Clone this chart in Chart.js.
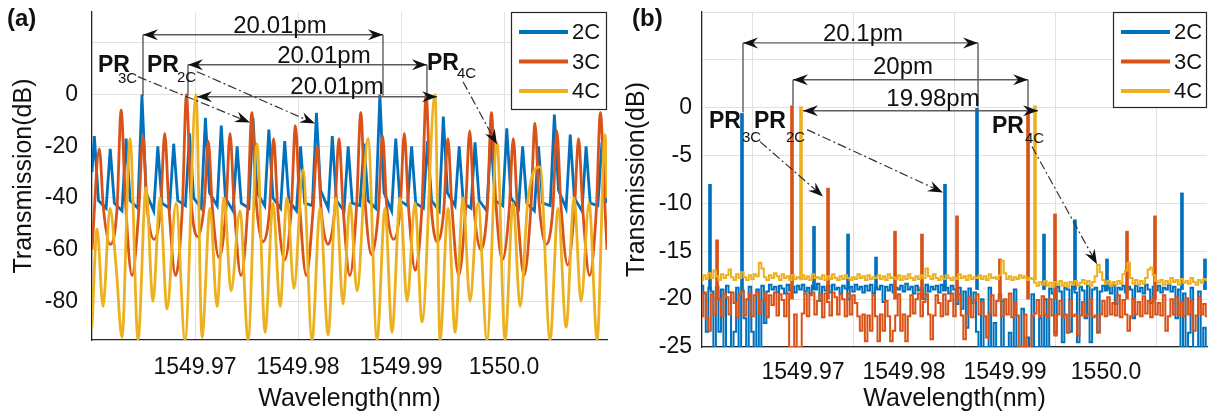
<!DOCTYPE html>
<html>
<head>
<meta charset="utf-8">
<script src="https://cdn.jsdelivr.net/npm/chart.js@4.4.1/dist/chart.umd.min.js"></script>
<style>
  body { margin: 0; background: #fff; width: 1211px; height: 416px; overflow: hidden; position: relative; }
  .panel { position: absolute; top: 0; height: 416px; }
  #wrap-a { left: 0; width: 615px; }
  #wrap-b { left: 615px; width: 596px; }
</style>
</head>
<body>
<div class="panel" id="wrap-a"><canvas id="chart-a"></canvas></div>
<div class="panel" id="wrap-b"><canvas id="chart-b"></canvas></div>
<script>
// ---- shared ticks ----
const tickWl = [1549.97, 1549.98, 1549.99, 1550.00];
const tickWlLabels = ["1549.97", "1549.98", "1549.99", "1550.0"];
const tickDbA = [-80, -60, -40, -20, 0, 20];
const tickDbB = [-25, -20, -15, -10, -5, 0, 5, 10];

// ---- panel (a): simulated transmission ----
const wlA2C = [1549.96000,
  1549.96023, 1549.96063, 1549.96137, 1549.96177, 1549.96217, 1549.96291, 1549.96331, 1549.96371, 1549.96445,
  1549.96485, 1549.96525, 1549.96599, 1549.96639, 1549.96679, 1549.96753, 1549.96793, 1549.96833, 1549.96907,
  1549.96947, 1549.96987, 1549.97061, 1549.97101, 1549.97141, 1549.97215, 1549.97255, 1549.97295, 1549.97369,
  1549.97409, 1549.97449, 1549.97523, 1549.97563, 1549.97603, 1549.97677, 1549.97717, 1549.97757, 1549.97831,
  1549.97871, 1549.97911, 1549.97985, 1549.98025, 1549.98065, 1549.98139, 1549.98179, 1549.98219, 1549.98293,
  1549.98333, 1549.98373, 1549.98447, 1549.98487, 1549.98527, 1549.98601, 1549.98641, 1549.98681, 1549.98755,
  1549.98795, 1549.98835, 1549.98909, 1549.98949, 1549.98989, 1549.99063, 1549.99103, 1549.99143, 1549.99217,
  1549.99257, 1549.99297, 1549.99371, 1549.99411, 1549.99451, 1549.99525, 1549.99565, 1549.99605, 1549.99679,
  1549.99719, 1549.99759, 1549.99833, 1549.99873, 1549.99913, 1549.99987, 1550.00027, 1550.00067, 1550.00141,
  1550.00181, 1550.00221, 1550.00295, 1550.00335, 1550.00375, 1550.00449, 1550.00489, 1550.00529, 1550.00603,
  1550.00643, 1550.00683, 1550.00757, 1550.00797, 1550.00837, 1550.00911, 1550.00951, 1550.00991, 1550.01000];
const dbA2C = [-30,
  -16, -41, -44, -21, -42, -45, -17, -41, -44,
  0, -38, -45, -20, -42, -44, -19, -41, -43,
  -15, -40, -44, -9, -38, -43, -12, -40, -45,
  -20, -42, -44, -9, -38, -43, -13.5, -40, -44,
  -18, -41, -45, -20, -42, -43, -7, -37, -44,
  -16, -41, -45, -20, -42, -43, -19, -41, -44,
  0, -38, -45, -17, -41, -43, -20, -42, -44,
  -18, -41, -45, -8.5, -38, -43, -20, -42, -44,
  -18.5, -41, -45, -16, -41, -43, -13, -40, -44,
  -20, -42, -45, -20, -42, -43, -7.7, -37, -44,
  -15.5, -40, -45, -20, -42, -43, -18.5, -41, -42];

const wlA3C = [1549.96000,
  1549.96071, 1549.96111, 1549.96177, 1549.96243, 1549.96283, 1549.96323, 1549.96388, 1549.96454,
  1549.96494, 1549.96534, 1549.96600, 1549.96666, 1549.96706, 1549.96746, 1549.96811, 1549.96877,
  1549.96917, 1549.96957, 1549.97023, 1549.97089, 1549.97129, 1549.97169, 1549.97234, 1549.97300,
  1549.97340, 1549.97380, 1549.97446, 1549.97512, 1549.97552, 1549.97592, 1549.97657, 1549.97723,
  1549.97763, 1549.97803, 1549.97869, 1549.97935, 1549.97975, 1549.98015, 1549.98080, 1549.98146,
  1549.98186, 1549.98226, 1549.98292, 1549.98358, 1549.98398, 1549.98438, 1549.98503, 1549.98569,
  1549.98609, 1549.98649, 1549.98715, 1549.98781, 1549.98821, 1549.98861, 1549.98926, 1549.98992,
  1549.99032, 1549.99072, 1549.99138, 1549.99204, 1549.99244, 1549.99284, 1549.99349, 1549.99415,
  1549.99455, 1549.99495, 1549.99561, 1549.99627, 1549.99667, 1549.99707, 1549.99772, 1549.99838,
  1549.99878, 1549.99918, 1549.99984, 1550.00050, 1550.00090, 1550.00130, 1550.00195, 1550.00261,
  1550.00301, 1550.00341, 1550.00407, 1550.00473, 1550.00513, 1550.00553, 1550.00618, 1550.00684,
  1550.00724, 1550.00764, 1550.00830, 1550.00896, 1550.00936, 1550.00976, 1550.01000];
const dbA3C = [-60,
  -21, -44, -58, -44, -6, -40, -70, -45,
  -16, -43, -56, -44, -15, -43, -70, -44,
  0, -38, -55, -43, -18, -44, -63, -45,
  -15, -43, -70, -44, -7, -40, -57, -45,
  -17, -44, -64, -44, -12, -42, -70, -45,
  -20, -45, -58, -44, -17, -44, -70, -43,
  -7, -40, -62, -45, -16, -43, -56, -44,
  -15, -43, -68, -43, 0, -38, -57, -45,
  -17, -44, -70, -44, -14, -43, -60, -44,
  -7, -40, -64, -45, -17, -44, -70, -44,
  -11, -42, -58, -45, -14, -43, -66, -44,
  -17, -44, -70, -45, -7, -40, -60];

const wlA4C = [1549.96000, 1549.96049, 1549.96107, 1549.96175, 1549.96233, 1549.96291, 1549.96369, 1549.96447, 1549.96524, 1549.96592,
  1549.96660, 1549.96728, 1549.96816, 1549.96903, 1549.97010, 1549.97068, 1549.97146, 1549.97214, 1549.97282, 1549.97350,
  1549.97437, 1549.97515, 1549.97602, 1549.97680, 1549.97758, 1549.97826, 1549.97893, 1549.97961, 1549.98049, 1549.98136,
  1549.98214, 1549.98292, 1549.98369, 1549.98437, 1549.98505, 1549.98573, 1549.98680, 1549.98767, 1549.98845, 1549.98913,
  1549.98991, 1549.99059, 1549.99136, 1549.99204, 1549.99330, 1549.99379, 1549.99457, 1549.99525, 1549.99602, 1549.99670,
  1549.99748, 1549.99835, 1549.99932, 1550.00010, 1550.00088, 1550.00156, 1550.00234, 1550.00350, 1550.00447, 1550.00525,
  1550.00603, 1550.00680, 1550.00748, 1550.00826, 1550.00904, 1550.00981, 1550.01000];
const dbA4C = [-90, -52, -82, -44, -66, -94, -17, -95, -36, -80,
  -40, -83, -42, -95, 0, -94, -44, -82, -40, -76,
  -45, -95, -19, -92, -42, -82, -40, -75, -29, -95,
  -44, -93, -40, -81, -42, -76, -17, -95, -44, -92,
  -40, -80, -42, -88, 0, -95, -44, -92, -40, -80,
  -42, -95, -18.5, -95, -42, -82, -40, -28, -95, -44,
  -90, -40, -80, -42, -95, -15.5, -40];

// ---- panel (b): measured transmission, sampled every 0.25 pm ----
const wlB = [1549.96000, 1549.96025, 1549.96050, 1549.96075, 1549.96100, 1549.96125, 1549.96150, 1549.96175, 1549.96200, 1549.96225,
  1549.96250, 1549.96275, 1549.96300, 1549.96325, 1549.96350, 1549.96375, 1549.96400, 1549.96425, 1549.96450, 1549.96475,
  1549.96500, 1549.96525, 1549.96550, 1549.96575, 1549.96600, 1549.96625, 1549.96650, 1549.96675, 1549.96700, 1549.96725,
  1549.96750, 1549.96775, 1549.96800, 1549.96825, 1549.96850, 1549.96875, 1549.96900, 1549.96925, 1549.96950, 1549.96975,
  1549.97000, 1549.97025, 1549.97050, 1549.97075, 1549.97100, 1549.97125, 1549.97150, 1549.97175, 1549.97200, 1549.97225,
  1549.97250, 1549.97275, 1549.97300, 1549.97325, 1549.97350, 1549.97375, 1549.97400, 1549.97425, 1549.97450, 1549.97475,
  1549.97500, 1549.97525, 1549.97550, 1549.97575, 1549.97600, 1549.97625, 1549.97650, 1549.97675, 1549.97700, 1549.97725,
  1549.97750, 1549.97775, 1549.97800, 1549.97825, 1549.97850, 1549.97875, 1549.97900, 1549.97925, 1549.97950, 1549.97975,
  1549.98000, 1549.98025, 1549.98050, 1549.98075, 1549.98100, 1549.98125, 1549.98150, 1549.98175, 1549.98200, 1549.98225,
  1549.98250, 1549.98275, 1549.98300, 1549.98325, 1549.98350, 1549.98375, 1549.98400, 1549.98425, 1549.98450, 1549.98475,
  1549.98500, 1549.98525, 1549.98550, 1549.98575, 1549.98600, 1549.98625, 1549.98650, 1549.98675, 1549.98700, 1549.98725,
  1549.98750, 1549.98775, 1549.98800, 1549.98825, 1549.98850, 1549.98875, 1549.98900, 1549.98925, 1549.98950, 1549.98975,
  1549.99000, 1549.99025, 1549.99050, 1549.99075, 1549.99100, 1549.99125, 1549.99150, 1549.99175, 1549.99200, 1549.99225,
  1549.99250, 1549.99275, 1549.99300, 1549.99325, 1549.99350, 1549.99375, 1549.99400, 1549.99425, 1549.99450, 1549.99475,
  1549.99500, 1549.99525, 1549.99550, 1549.99575, 1549.99600, 1549.99625, 1549.99650, 1549.99675, 1549.99700, 1549.99725,
  1549.99750, 1549.99775, 1549.99800, 1549.99825, 1549.99850, 1549.99875, 1549.99900, 1549.99925, 1549.99950, 1549.99975,
  1550.00000, 1550.00025, 1550.00050, 1550.00075, 1550.00100, 1550.00125, 1550.00150, 1550.00175, 1550.00200, 1550.00225,
  1550.00250, 1550.00275, 1550.00300, 1550.00325, 1550.00350, 1550.00375, 1550.00400, 1550.00425, 1550.00450, 1550.00475,
  1550.00500, 1550.00525, 1550.00550, 1550.00575, 1550.00600, 1550.00625, 1550.00650, 1550.00675, 1550.00700, 1550.00725,
  1550.00750, 1550.00775, 1550.00800, 1550.00825, 1550.00850, 1550.00875, 1550.00900, 1550.00925, 1550.00950, 1550.00975,
  1550.01000];
const dbB2C = [-18.6, -19.4, -23.4, -18.8, -19.2, -25.0, -18.7, -23.4, -19.0, -25.0,
  -18.6, -19.3, -25.0, -23.4, -18.8, -25.0, -19.1, -22.0, -25.0, -18.7,
  -23.4, -25.0, -19.0, -25.0, -18.6, -22.5, -19.2, -18.5, -19.0, -18.7,
  -19.3, -18.6, -18.9, -19.4, -18.5, -19.1, -18.7, -19.3, -18.6, -19.0,
  -18.5, -19.2, -18.8, -19.4, -18.6, -19.0, -18.4, -20.2, -18.7, -19.1,
  -18.6, -19.3, -18.5, -19.0, -18.8, -19.4, -18.6, -18.9, -20.0, -18.7,
  -19.2, -18.5, -19.0, -18.7, -19.3, -18.6, -19.1, -18.5, -19.4, -18.8,
  -19.0, -18.6, -20.3, -18.7, -19.1, -18.5, -19.3, -18.8, -19.0, -18.6,
  -19.2, -18.4, -19.0, -18.7, -19.4, -18.6, -19.1, -18.8, -20.0, -18.5,
  -19.2, -18.7, -19.0, -18.6, -19.3, -18.5, -19.1, -18.8, -19.4, -18.6,
  -19.0, -20.5, -18.8, -21.0, -19.2, -23.0, -18.9, -20.4, -19.3, -23.4,
  -25.0, -20.0, -25.0, -25.0, -18.8, -25.0, -22.5, -25.0, -25.0, -20.2,
  -25.0, -25.0, -23.5, -25.0, -19.0, -25.0, -25.0, -21.0, -25.0, -24.0,
  -25.0, -19.5, -25.0, -25.0, -22.0, -25.0, -20.0, -25.0, -18.9, -19.4,
  -23.5, -18.7, -19.2, -24.5, -18.8, -19.0, -23.4, -18.6, -19.3, -24.5,
  -18.7, -19.1, -22.0, -18.6, -24.5, -19.0, -18.8, -23.4, -19.2, -18.6,
  -19.1, -18.7, -19.4, -18.5, -20.5, -18.8, -19.0, -18.6, -19.3, -18.7,
  -19.0, -22.0, -18.6, -19.2, -18.8, -19.4, -18.5, -19.0, -20.4, -18.7,
  -19.1, -18.6, -19.3, -18.8, -19.0, -18.5, -19.2, -18.7, -22.0, -19.0,
  -25.0, -19.4, -25.0, -23.5, -18.8, -25.0, -25.0, -19.2, -25.0, -23.0,
  -25.0];
const dbB3C = [-21.8, -19.3, -22.0, -23.3, -19.5, -21.6, -19.2, -20.0, -21.8, -19.4,
  -19.8, -21.6, -19.3, -20.4, -21.9, -19.5, -19.2, -21.7, -20.0, -19.4,
  -21.8, -19.6, -19.3, -21.5, -20.2, -19.4, -21.9, -19.6, -20.6, -19.3,
  -21.7, -19.5, -20.1, -21.8, -19.4, -25.0, -25.0, -21.6, -25.0, -25.0,
  -21.5, -19.4, -21.8, -19.6, -19.3, -21.6, -20.2, -19.5, -21.9, -19.4,
  -20.3, -21.7, -19.3, -19.8, -21.6, -19.5, -20.0, -21.8, -19.4, -21.6,
  -19.6, -20.4, -21.8, -23.3, -21.6, -24.4, -21.7, -23.3, -19.6, -21.8,
  -24.4, -21.6, -23.3, -20.2, -21.8, -24.4, -23.3, -21.7, -19.5, -23.3,
  -21.6, -24.4, -21.8, -19.6, -21.5, -20.0, -19.4, -21.8, -20.3, -19.5,
  -21.6, -24.2, -21.7, -19.6, -20.4, -21.8, -19.5, -21.6, -20.2, -19.4,
  -21.8, -20.0, -19.5, -21.7, -24.2, -21.6, -19.8, -21.9, -20.1, -19.5,
  -21.6, -20.3, -21.8, -24.0, -21.5, -19.6, -21.7, -20.2, -19.5, -21.8,
  -20.0, -21.6, -19.4, -21.9, -20.3, -21.7, -25.0, -25.0, -21.6, -25.0,
  -25.0, -21.8, -21.5, -20.1, -21.8, -19.7, -21.6, -21.9, -20.0, -21.7,
  -23.8, -21.6, -20.2, -21.9, -21.6, -23.5, -20.1, -21.8, -21.6, -23.8,
  -21.7, -20.3, -21.8, -21.6, -20.0, -21.9, -21.7, -23.5, -21.6, -20.2,
  -21.8, -19.8, -21.6, -20.4, -21.7, -19.6, -21.9, -20.1, -21.6, -23.3,
  -21.8, -19.9, -21.6, -20.3, -21.8, -19.7, -21.5, -20.2, -21.9, -19.8,
  -21.6, -20.4, -21.7, -19.6, -23.3, -21.8, -20.0, -21.6, -19.8, -21.7,
  -20.3, -21.8, -19.9, -21.6, -20.2, -23.3, -21.7, -19.8, -21.6, -20.5,
  -21.8];
const dbB4C = [-18.0, -17.5, -17.9, -17.3, -17.8, -17.0, -17.6, -18.0, -17.4, -17.8,
  -17.5, -16.9, -17.7, -18.0, -17.4, -17.8, -17.2, -17.7, -18.0, -17.5,
  -17.9, -17.4, -17.6, -16.2, -16.8, -17.7, -18.0, -17.5, -17.8, -17.3,
  -17.6, -18.0, -17.4, -17.8, -17.6, -18.0, -17.5, -17.9, -17.7, -17.8,
  -17.5, -17.9, -17.6, -18.0, -17.4, -17.8, -17.7, -17.9, -17.5, -18.0,
  -17.6, -17.9, -17.4, -17.8, -18.0, -17.6, -17.9, -17.5, -17.8, -18.0,
  -17.7, -17.9, -17.4, -17.8, -17.6, -18.0, -17.5, -17.9, -17.7, -17.8,
  -17.5, -17.9, -17.6, -18.0, -17.4, -17.8, -17.7, -17.9, -17.5, -18.0,
  -17.6, -17.9, -17.4, -17.8, -18.0, -17.6, -17.9, -17.5, -17.8, -16.8,
  -17.6, -17.9, -17.4, -17.8, -18.0, -17.6, -17.9, -17.5, -17.8, -18.0,
  -17.7, -17.9, -17.4, -17.8, -17.6, -18.0, -17.5, -17.9, -17.7, -17.8,
  -17.5, -17.9, -17.6, -18.0, -17.4, -17.8, -17.7, -17.9, -17.5, -16.0,
  -17.3, -17.9, -17.6, -18.0, -17.7, -17.9, -17.5, -17.8, -17.6, -18.0,
  -17.8, -17.9, -18.3, -18.6, -18.2, -18.5, -18.1, -18.6, -18.3, -18.7,
  -18.2, -18.5, -18.1, -18.6, -18.3, -18.7, -18.2, -18.5, -18.1, -18.6,
  -18.3, -18.0, -18.4, -18.1, -18.6, -18.2, -17.6, -16.4, -17.2, -18.0,
  -18.4, -18.1, -18.6, -18.2, -18.5, -18.1, -18.4, -17.4, -17.0, -16.2,
  -17.8, -18.4, -18.0, -18.5, -18.1, -18.4, -17.8, -16.9, -16.7, -17.5,
  -18.1, -18.3, -18.0, -18.5, -18.1, -18.4, -17.8, -18.2, -18.0, -18.5,
  -17.9, -18.3, -18.1, -18.4, -17.8, -18.2, -18.5, -18.0, -18.3, -17.9,
  -18.0];

// narrow resonance spikes in (b), drawn as floating bars from the noise floor
const floorB2C = -19, floorB3C = -20, floorB4C = -18;
const spikeWlB2C = [1549.96079, 1549.96396, 1549.97109, 1549.97446, 1549.97723, 1549.98406, 1549.98723, 1549.99386, 1549.99693, 1550.00010, 1550.00752, 1550.00980];
const spikeTopB2C = [-8.0, -0.6, -12.4, -13.2, -15.6, -8.0, 0.0, -13.2, -11.7, -15.8, -8.9, -15.8];
const spikeWlB3C = [1549.96149, 1549.96891, 1549.97248, 1549.97911, 1549.98178, 1549.98525, 1549.98950, 1549.99228, 1549.99495, 1550.00208, 1550.00485];
const spikeTopB3C = [-13.8, 0.2, -8.4, -12.9, -13.2, -11.3, -15.8, -0.4, -11.1, -12.9, -11.3];
const spikeWlB4C = [1549.96980, 1549.99297];
const spikeTopB4C = [0.1, 0.2];

// ---- annotations (data units) ----
const spansA = [
  { x1: 1549.96495, x2: 1549.98825, y: 23.2, d1: -0.4, d2: -0.4, text: "20.01pm", tx: 1549.97825, ty: 24.0 },
  { x1: 1549.96932, x2: 1549.99252, y: 11.6, d1: -0.4, d2: -0.4, text: "20.01pm", tx: 1549.98252, ty: 12.4 },
  { x1: 1549.97019, x2: 1549.99350, y: -0.8, d1: null, d2: null, text: "20.01pm", tx: 1549.98379, ty: 0.4 },
];
const prA = [
  { x: 1549.96058, y: 8.89, sub: "3C", dx: 20, dy: 11 },
  { x: 1549.96534, y: 8.89, sub: "2C", dx: 30, dy: 10 },
  { x: 1549.99252, y: 9.66, sub: "4C", dx: 30, dy: 8 },
];
const pointersA = [
  { fx: 1549.96447, fy: 6.96, tx: 1549.97534, ty: -10.82 },
  { fx: 1549.97019, fy: 8.89, tx: 1549.98165, ty: -11.21 },
  { fx: 1549.99602, fy: 5.02, tx: 1549.99932, ty: -19.32 },
];
const spansB = [
  { x1: 1549.96406, x2: 1549.98733, y: 6.77, d1: -0.5, d2: 0.1, text: "20.1pm", tx: 1549.97594, ty: 6.98 },
  { x1: 1549.96901, x2: 1549.99228, y: 2.92, d1: 0.2, d2: -0.4, text: "20pm", tx: 1549.97990, ty: 3.54 },
  { x1: 1549.97000, x2: 1549.99327, y: -0.31, d1: null, d2: null, text: "19.98pm", tx: 1549.98287, ty: 0.21 },
];
const prB = [
  { x: 1549.96069, y: -2.08, sub: "3C", dx: 33, dy: 14 },
  { x: 1549.96515, y: -2.08, sub: "2C", dx: 32, dy: 14 },
  { x: 1549.98871, y: -2.60, sub: "4C", dx: 33, dy: 10 },
];
const pointersB = [
  { fx: 1549.96574, fy: -3.54, tx: 1549.97198, ty: -9.27 },
  { fx: 1549.97040, fy: -2.29, tx: 1549.98386, ty: -8.85 },
  { fx: 1549.99267, fy: -4.06, tx: 1549.99911, ty: -16.35 },
];

const C2 = "#0072BD", C3 = "#D95319", C4 = "#EDB120";
const FONT = '"Liberation Sans", Arial, Helvetica, sans-serif';
const seriesNames = ["2C", "3C", "4C"];
const seriesColors = [C2, C3, C4];

function pts(xs, ys) {
  return xs.map((x, i) => ({ x, y: ys[i] }));
}
function bars(xs, tops, floor) {
  return xs.map((x, i) => ({ x, y: [floor, tops[i]] }));
}

// MATLAB-style notched arrowhead, dir = unit vector toward the tip
function head(ctx, tx, ty, dx, dy) {
  const len = 15, half = 5.5, notch = 10;
  const nx = -dy, ny = dx;
  ctx.beginPath();
  ctx.moveTo(tx, ty);
  ctx.lineTo(tx - dx * len + nx * half, ty - dy * len + ny * half);
  ctx.lineTo(tx - dx * notch, ty - dy * notch);
  ctx.lineTo(tx - dx * len - nx * half, ty - dy * len - ny * half);
  ctx.closePath();
  ctx.fill();
}

const annoPlugin = {
  id: "anno",
  afterDatasetsDraw(chart, args, o) {
    const { ctx, chartArea: ca } = chart;
    const X = (v) => chart.scales.x.getPixelForValue(v);
    const Y = (v) => chart.scales.y.getPixelForValue(v);
    ctx.save();

    // spacing arrows
    o.spans.forEach((s) => {
      const a = X(s.x1), b = X(s.x2), py = Y(s.y);
      ctx.strokeStyle = "#5c5c5c";
      ctx.lineWidth = 1.4;
      ctx.setLineDash([]);
      ctx.beginPath();
      ctx.moveTo(a, py); ctx.lineTo(b, py);
      if (s.d1 !== null) { ctx.moveTo(a, py); ctx.lineTo(a, Y(s.d1)); }
      if (s.d2 !== null) { ctx.moveTo(b, py); ctx.lineTo(b, Y(s.d2)); }
      ctx.stroke();
      ctx.fillStyle = "#111";
      head(ctx, a, py, -1, 0);
      head(ctx, b, py, 1, 0);
      ctx.font = `24px ${FONT}`;
      ctx.textAlign = "center";
      ctx.textBaseline = "alphabetic";
      ctx.fillText(s.text, X(s.tx), Y(s.ty));
    });

    // dash-dot pointers
    o.pointers.forEach((p) => {
      const fx = X(p.fx), fy = Y(p.fy), tx = X(p.tx), ty = Y(p.ty);
      const L = Math.hypot(tx - fx, ty - fy);
      const ux = (tx - fx) / L, uy = (ty - fy) / L;
      ctx.strokeStyle = "#333";
      ctx.lineWidth = 1.2;
      ctx.setLineDash([9, 3, 2, 3]);
      ctx.beginPath();
      ctx.moveTo(fx, fy);
      ctx.lineTo(tx - ux * 10, ty - uy * 10);
      ctx.stroke();
      ctx.setLineDash([]);
      ctx.fillStyle = "#111";
      head(ctx, tx, ty, ux, uy);
    });

    // PR labels
    o.pr.forEach((l) => {
      const px = X(l.x), py = Y(l.y);
      ctx.fillStyle = "#111";
      ctx.textAlign = "left";
      ctx.textBaseline = "alphabetic";
      ctx.font = `bold 23px ${FONT}`;
      ctx.fillText("PR", px, py);
      ctx.font = `15px ${FONT}`;
      ctx.fillText(l.sub, px + l.dx, py + l.dy);
    });

    // legend box, top-right inside the axes
    const lw = o.legendW, lh = o.legendH;
    const lx = ca.right - lw, ly = ca.top;
    ctx.fillStyle = "#fff";
    ctx.fillRect(lx, ly, lw, lh);
    ctx.strokeStyle = "#262626";
    ctx.lineWidth = 1.2;
    ctx.strokeRect(lx + 0.5, ly + 0.5, lw - 1, lh - 1);
    seriesNames.forEach((n, i) => {
      const ry = ly + 20 + i * 29.5;
      ctx.strokeStyle = seriesColors[i];
      ctx.lineWidth = 4;
      ctx.beginPath();
      ctx.moveTo(lx + 8, ry); ctx.lineTo(lx + 57, ry);
      ctx.stroke();
      ctx.fillStyle = "#111";
      ctx.font = `22px ${FONT}`;
      ctx.textAlign = "left";
      ctx.textBaseline = "middle";
      ctx.fillText(n, lx + 61, ry + 1);
    });

    // panel letter
    ctx.fillStyle = "#111";
    ctx.font = `bold 24px ${FONT}`;
    ctx.textAlign = "left";
    ctx.textBaseline = "middle";
    ctx.fillText(o.letter, o.letterX, 19);
    ctx.restore();
  },
};

function makeChart(id, cfg) {
  const xScale = {
    type: "linear",
    min: 1549.96,
    max: 1550.01,
    offset: false,
    afterBuildTicks: (s) => { s.ticks = tickWl.map((v) => ({ value: v })); },
    afterFit: (s) => { s.height = cfg.xHeight; s.paddingLeft = 0; s.paddingRight = 0; },
    ticks: {
      color: "#111",
      font: { family: FONT, size: 23 },
      padding: cfg.xTickPad,
      maxRotation: 0,
      callback: (v, i) => tickWlLabels[i],
    },
    grid: { color: "#e2e2e2", lineWidth: 1, drawTicks: false },
    border: { color: "#262626", width: 1.3 },
    title: {
      display: true, text: "Wavelength(nm)", color: "#111",
      font: { family: FONT, size: 25, lineHeight: 1 }, padding: { top: 0, bottom: 4 },
    },
  };
  const yScale = {
    type: "linear",
    min: cfg.yMin,
    max: cfg.yMax,
    afterBuildTicks: (s) => { s.ticks = cfg.yTicks.map((v) => ({ value: v })); },
    afterFit: (s) => { s.width = cfg.yWidth; s.paddingTop = 0; s.paddingBottom = 0; },
    ticks: {
      color: "#111",
      font: { family: FONT, size: 23 },
      padding: cfg.yTickPad,
      callback: (v) => (v > 0 ? "" : String(v)),
    },
    grid: { color: "#e2e2e2", lineWidth: 1, drawTicks: false },
    border: { color: "#262626", width: 1.3 },
    title: {
      display: true, text: "Transmission(dB)", color: "#111",
      font: { family: FONT, size: 25, lineHeight: 1 }, padding: { top: cfg.yTitlePad, bottom: 0 },
    },
  };
  return new Chart(document.getElementById(id), {
    type: "line",
    data: { datasets: cfg.datasets },
    options: {
      responsive: true,
      maintainAspectRatio: false,
      animation: false,
      layout: { padding: { top: 12, right: cfg.padRight, left: 0, bottom: 0 } },
      plugins: {
        legend: { display: false },
        tooltip: { enabled: false },
        anno: cfg.anno,
      },
      scales: { x: xScale, y: yScale },
    },
    plugins: [annoPlugin],
  });
}

const lineA = (label, xs, ys, color, order, smooth) => ({
  label, data: pts(xs, ys), borderColor: color, borderWidth: 2.8,
  pointRadius: 0, cubicInterpolationMode: smooth ? "monotone" : "default", tension: 0, order,
});

makeChart("chart-a", {
  yMin: -95, yMax: 32, yTicks: tickDbA, yWidth: 92, yTickPad: 14, yTitlePad: 12,
  xHeight: 76, xTickPad: 14, padRight: 8,
  datasets: [
    lineA("2C", wlA2C, dbA2C, C2, 3, false),
    lineA("3C", wlA3C, dbA3C, C3, 2, true),
    lineA("4C", wlA4C, dbA4C, C4, 1, true),
  ],
  anno: { spans: spansA, pr: prA, pointers: pointersA, legendW: 96, legendH: 98, letter: "(a)", letterX: 7 },
});

const noiseB = (label, ys, color, order) => ({
  label, data: pts(wlB, ys), borderColor: color, borderWidth: 2,
  pointRadius: 0, stepped: "middle", order,
});
const spikeB = (label, xs, tops, floor, color, order) => ({
  type: "bar", label, data: bars(xs, tops, floor), backgroundColor: color,
  barThickness: 3, grouped: false, borderWidth: 0, order,
});

makeChart("chart-b", {
  yMin: -25, yMax: 10, yTicks: tickDbB, yWidth: 87, yTickPad: 10, yTitlePad: 10,
  xHeight: 69, xTickPad: 12, padRight: 4,
  datasets: [
    noiseB("2C", dbB2C, C2, 6),
    spikeB("2C peaks", spikeWlB2C, spikeTopB2C, floorB2C, C2, 5),
    noiseB("3C", dbB3C, C3, 4),
    spikeB("3C peaks", spikeWlB3C, spikeTopB3C, floorB3C, C3, 3),
    noiseB("4C", dbB4C, C4, 2),
    spikeB("4C peaks", spikeWlB4C, spikeTopB4C, floorB4C, C4, 1),
  ],
  anno: { spans: spansB, pr: prB, pointers: pointersB, legendW: 94, legendH: 96, letter: "(b)", letterX: 17 },
});
</script>
</body>
</html>
